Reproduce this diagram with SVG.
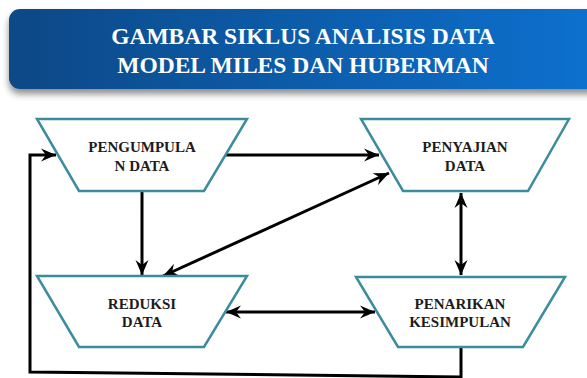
<svg xmlns="http://www.w3.org/2000/svg" width="587" height="378" viewBox="0 0 587 378">
<defs>
<linearGradient id="hdr" x1="0" y1="0" x2="1" y2="0">
<stop offset="0" stop-color="#0c4886"/>
<stop offset="1" stop-color="#0b71d0"/>
</linearGradient>
<filter id="sh" x="-5%" y="-20%" width="110%" height="160%">
<feDropShadow dx="0" dy="5" stdDeviation="3.5" flood-color="#000" flood-opacity="0.45"/>
</filter>
<marker id="ah" viewBox="-15 -7 16 14" refX="0" refY="0" markerWidth="16" markerHeight="14" markerUnits="userSpaceOnUse" orient="auto-start-reverse">
<path d="M0,0 L-15,-6.5 L-10,0 L-15,6.5 Z" fill="#000"/>
</marker>
</defs>
<style>
.hdr-text{font-family:"Liberation Serif","Times New Roman",serif;font-weight:bold;font-size:23.5px;fill:#fff;text-anchor:middle}
.node{fill:#fff;stroke:#3b8d9e;stroke-width:2.5;stroke-linejoin:miter}
.lbl{font-family:"Liberation Serif","Times New Roman",serif;font-weight:bold;font-size:15px;fill:#1c1c1c;text-anchor:middle}
.con{fill:none;stroke:#000;stroke-width:3}
</style>
<g id="header">
<rect x="9" y="9" width="600" height="80" rx="11" fill="url(#hdr)" filter="url(#sh)"/>
<text class="hdr-text" x="303" y="44">GAMBAR SIKLUS ANALISIS DATA</text>
<text class="hdr-text" x="303" y="73">MODEL MILES DAN HUBERMAN</text>
</g>
<g id="connectors">
<path class="con" d="M226,155 L379,155" marker-end="url(#ah)"/>
<path class="con" d="M142,191 L142,275" marker-end="url(#ah)"/>
<path class="con" d="M163,276 L389,173" marker-start="url(#ah)" marker-end="url(#ah)"/>
<path class="con" d="M461,193 L461,275" marker-start="url(#ah)" marker-end="url(#ah)"/>
<path class="con" d="M226,312 L375,312" marker-start="url(#ah)" marker-end="url(#ah)"/>
<path class="con" d="M461,347 L461,377 L30,372 L30,155 L56,155" marker-end="url(#ah)"/>
</g>
<g id="node-pengumpulan">
<polygon class="node" points="37,119 247,119 204,191 79,191"/>
<text class="lbl" x="142" y="152">PENGUMPULA</text>
<text class="lbl" x="142" y="171">N DATA</text>
</g>
<g id="node-penyajian">
<polygon class="node" points="361,119 569,119 528,191 403,191"/>
<text class="lbl" x="465" y="152">PENYAJIAN</text>
<text class="lbl" x="465" y="171">DATA</text>
</g>
<g id="node-reduksi">
<polygon class="node" points="37,276 247,276 204,347 79,347"/>
<text class="lbl" x="142" y="309">REDUKSI</text>
<text class="lbl" x="142" y="327">DATA</text>
</g>
<g id="node-penarikan">
<polygon class="node" points="356,277 565,277 523,347 398,347"/>
<text class="lbl" x="460" y="309">PENARIKAN</text>
<text class="lbl" x="460" y="327">KESIMPULAN</text>
</g>
</svg>
